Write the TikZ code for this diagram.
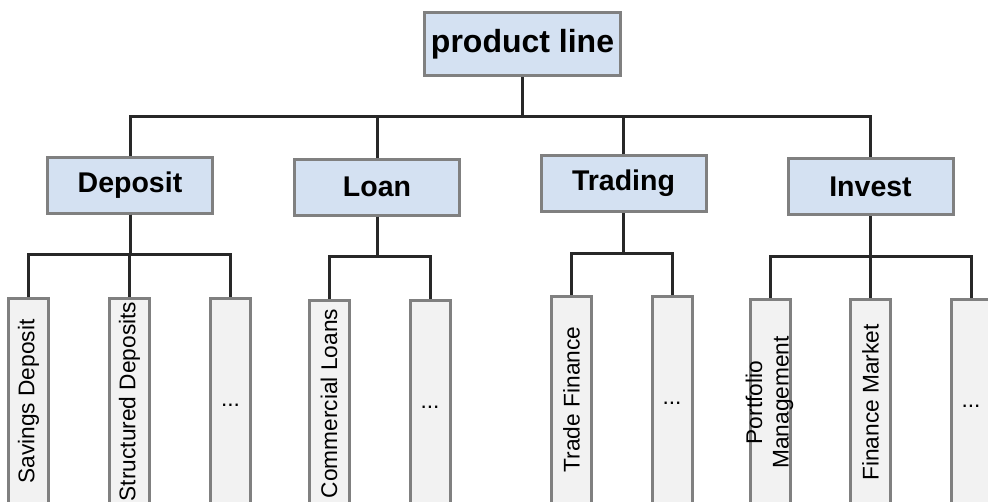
\documentclass[tikz,border=0pt]{standalone}
\usepackage{fontspec}
\setmainfont{Liberation Sans}
\definecolor{boxblue}{RGB}{212,225,242}
\definecolor{boxgray}{RGB}{242,242,242}
\definecolor{edgegray}{RGB}{128,128,128}
\definecolor{linedark}{RGB}{40,40,40}
\newcommand{\vtext}[1]{\makebox[0pt]{\rotatebox{90}{#1}}}
\begin{document}
\begin{tikzpicture}[x=1pt,y=-1pt,
  rootbox/.style={draw=edgegray, fill=boxblue, line width=3pt, inner sep=0pt,
    minimum width=196pt, minimum height=63pt,
    font=\fontsize{32}{38}\selectfont\bfseries},
  catbox/.style={draw=edgegray, fill=boxblue, line width=3pt, inner sep=0pt,
    minimum width=165pt, minimum height=56pt,
    font=\fontsize{28.5}{34}\selectfont\bfseries},
  leafbox/.style={draw=edgegray, fill=boxgray, line width=3pt, inner sep=0pt,
    minimum width=40pt, minimum height=207pt, anchor=north,
    font=\fontsize{22.7}{26.5}\selectfont},
  conn/.style={draw=linedark, line width=3pt}]
\useasboundingbox (0,0) rectangle (988,501);
\clip (0,0) rectangle (988,501);

% top level
\node[rootbox] (root) at (522.5,44) {product line};

% product categories
\node[catbox] (dep) at (130,185)   {Deposit};
\node[catbox] (loan) at (377,187)  {Loan};
\node[catbox] (trade) at (623.5,183.5) {Trading};
\node[catbox] (inv) at (870.5,186.5) {Invest};

% products
\node[leafbox] (sav)  at (28.5,296.5)  {\vtext{Savings Deposit}};
\node[leafbox] (str)  at (129.5,296.5) {\vtext{Structured Deposits}};
\node[leafbox] (dmore) at (230.5,296.5) {\vphantom{Ag}...};

\node[leafbox] (com)  at (329,298.5) {\vtext{Commercial Loans}};
\node[leafbox] (lmore) at (430,298.5) {\vphantom{Ag}...};

\node[leafbox] (tfin) at (571.5,294.5) {\vtext{Trade Finance}};
\node[leafbox] (tmore) at (672,294.5) {\vphantom{Ag}...};

\node[leafbox] (port) at (770,297.5)
  {\vtext{\begin{tabular}{@{}c@{}}Portfolio\\Management\end{tabular}}};
\node[leafbox] (fmk)  at (870.5,297.5) {\vtext{Finance Market}};
\node[leafbox] (imore) at (971,297.5) {\vphantom{Ag}...};

% connectors: root to categories
\foreach \c in {dep,loan,trade,inv}
  \draw[conn] (root.south) -- ++(0,39) -| (\c.north);

% connectors: categories to products
\foreach \c in {sav,str,dmore}
  \draw[conn] (dep.south) -- ++(0,40) -| (\c.north);
\foreach \c in {com,lmore}
  \draw[conn] (loan.south) -- ++(0,40) -| (\c.north);
\foreach \c in {tfin,tmore}
  \draw[conn] (trade.south) -- ++(0,40) -| (\c.north);
\foreach \c in {port,fmk,imore}
  \draw[conn] (inv.south) -- ++(0,40) -| (\c.north);
\end{tikzpicture}
\end{document}
